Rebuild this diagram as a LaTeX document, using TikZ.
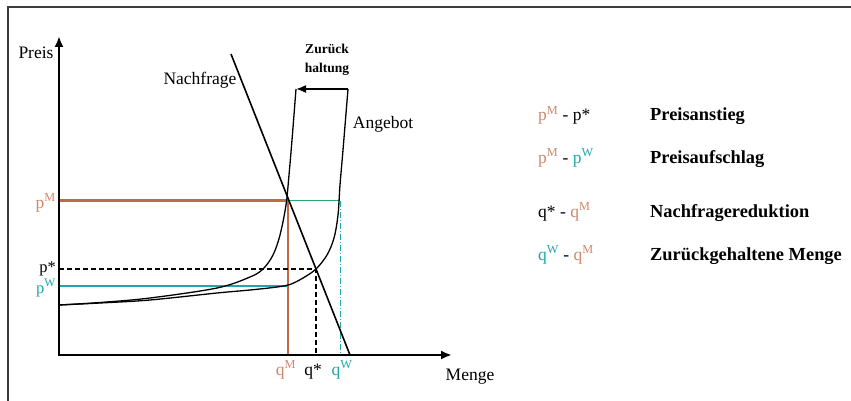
\documentclass[tikz,border=0pt]{standalone}
\usepackage{fontspec}
\setmainfont{Liberation Serif}
\usetikzlibrary{arrows.meta}
\definecolor{brn}{RGB}{192,104,72}
\definecolor{brnlt}{RGB}{206,136,106}
\definecolor{cyn}{RGB}{30,168,170}
\definecolor{grn}{RGB}{40,168,110}
\definecolor{framegray}{RGB}{60,60,60}
\begin{document}
\begin{tikzpicture}[x=1pt,y=-1pt,
  lbl/.style={inner sep=0pt, font=\fontsize{17.5}{20}\selectfont},
  leg/.style={inner sep=0pt, anchor=base west, font=\fontsize{17.5}{20}\selectfont},
  legb/.style={inner sep=0pt, anchor=base west, font=\fontsize{18.4}{20}\selectfont\bfseries},
  axis/.style={line width=2.4pt, {Latex[length=11pt,width=9pt]}-{Latex[length=11pt,width=9pt]}},
  curve/.style={line width=1.3pt, black},
  dashline/.style={line width=2pt, black, dash pattern=on 5pt off 3pt},
  brnline/.style={brn, line width=2.2pt},
]
\useasboundingbox (0,0) rectangle (851,401);
\fill[white] (0,0) rectangle (851,401);
\draw[framegray, line width=1.5pt] (8,401) -- (8,7) -- (851,7);

% key points
\coordinate (O) at (59,355);
\coordinate (Ytop) at (59,36);
\coordinate (Xend) at (452,355);
\coordinate (pMy) at (59,200.5);
\coordinate (M) at (288,200.5);
\coordinate (qMx) at (288,355);
\coordinate (W) at (340,200.5);
\coordinate (qWx) at (340,355);
\coordinate (pWy) at (59,286);
\coordinate (pWr) at (288,286);
\coordinate (pSy) at (59,269);
\coordinate (E) at (316,269);
\coordinate (qSx) at (316,355);
\coordinate (Dtop) at (231,54);
\coordinate (Dbot) at (350,355);
\coordinate (Stop) at (348,89);
\coordinate (Sstop) at (296,89);

% coloured guide lines
\draw[brnline] (pMy) -- (M);
\draw[brnline, line width=2.6pt] (M) -- (qMx);
\draw[grn, line width=1.5pt] (M) -- (W);
\draw[cyn, line width=1pt, dash pattern=on 6pt off 2pt on 1pt off 2pt] (W) -- (qWx);
\draw[cyn, line width=1.2pt] (pWy) -- (pWr);
\draw[dashline] (pSy) -- (E) -- (qSx);

% demand
\draw[curve, line width=1.6pt] (Dtop) -- (Dbot);
% original supply
\draw[curve] plot[smooth, tension=0.55] coordinates {(59,305) (100,303) (150,300) (217,293) (250,290) (277,287) (290,284.5) (303,278) (316,269) (327,255) (334,238) (338,215) (340,185) (343,150) (348,89)};
% shifted supply
\draw[curve] plot[smooth, tension=0.55] coordinates {(59,305) (100,302.5) (150,298) (217,288) (250,277) (263,269) (273,255) (280,235) (286,205) (289,175) (292,140) (296,89)};
% withholding arrow
\draw[line width=1.6pt, -{Latex[length=10pt,width=8pt]}] (Stop) -- (Sstop);

% axes
\draw[axis] (Ytop) -- (O) -- (Xend);

% labels
\node[lbl] (preis) at (36,53) {Preis};
\node[lbl] (menge) at (470,377) {Menge};
\node[lbl] (nachfrage) at (200,80) {Nachfrage};
\node[lbl] (angebot) at (383,124) {Angebot};
\node[inner sep=0pt, align=center, font=\fontsize{13.5}{19}\selectfont\bfseries] (zur) at (327,60) {Zurück\\haltung};

\node[lbl, anchor=base east, text=brnlt] (lpM) at (56,208) {p\textsuperscript{M}};
\node[lbl, anchor=base east, font=\fontsize{16.5}{18}\selectfont] (lpS) at (56,272) {p*};
\node[lbl, anchor=base east, text=cyn, font=\fontsize{16.5}{18}\selectfont] (lpW) at (56,293) {p\textsuperscript{W}};
\node[lbl, anchor=base, text=brnlt] (lqM) at (286,375) {q\textsuperscript{M}};
\node[lbl, anchor=base] (lqS) at (313,375) {q*};
\node[lbl, anchor=base, text=cyn] (lqW) at (342,375) {q\textsuperscript{W}};

% legend
\node[leg] (l1) at (538,121) {\textcolor{brnlt}{p\textsuperscript{M}} - p*};
\node[legb] (r1) at (650,121) {Preisanstieg};
\node[leg] (l2) at (538,163) {\textcolor{brnlt}{p\textsuperscript{M}} - \textcolor{cyn}{p\textsuperscript{W}}};
\node[legb] (r2) at (650,163) {Preisaufschlag};
\node[leg] (l3) at (538,217) {q* - \textcolor{brnlt}{q\textsuperscript{M}}};
\node[legb] (r3) at (650,217) {Nachfragereduktion};
\node[leg] (l4) at (538,260) {\textcolor{cyn}{q\textsuperscript{W}} - \textcolor{brnlt}{q\textsuperscript{M}}};
\node[legb] (r4) at (650,260) {Zurückgehaltene Menge};
\end{tikzpicture}
\end{document}
